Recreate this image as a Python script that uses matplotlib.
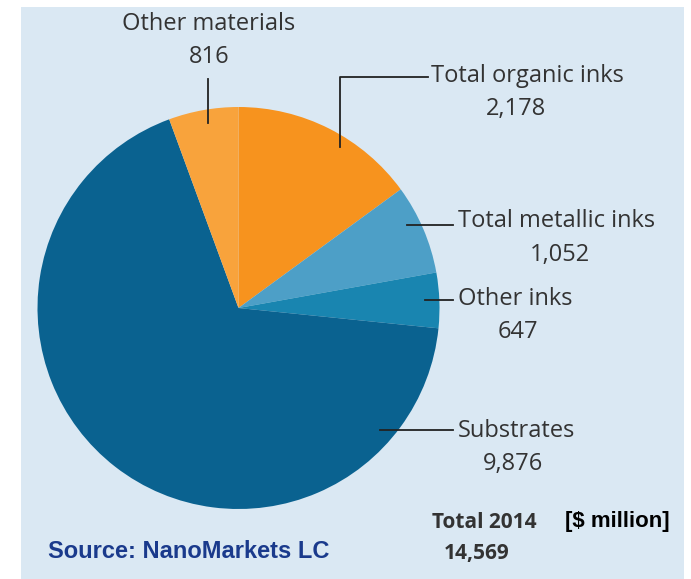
import matplotlib.pyplot as plt
from matplotlib.patches import Rectangle

# market values 2014, $ million (clockwise from 12 o'clock)
labels = ['Total organic inks', 'Total metallic inks', 'Other inks', 'Substrates', 'Other materials']
values = [2178, 1052, 647, 9876, 816]
value_text = ['2,178', '1,052', '647', '9,876', '816']
colors = ['#f7931e', '#4d9fc7', '#1985b0', '#0a6290', '#f8a33c']
total = 14569

W, H = 691, 579
fig = plt.figure(figsize=(W / 100, H / 100), dpi=100)
ax = fig.add_axes([0, 0, 1, 1])

def Y(y):
    # pixel row from top -> data y
    return H - y

# light blue panel
ax.add_patch(Rectangle((21, 0), 663, H - 7, facecolor='#dae8f3', edgecolor='none', zorder=0))

# pie
cx, cy, r = 238.5, Y(308), 201
ax.pie(values, colors=colors, startangle=90, counterclock=False,
       center=(cx, cy), radius=r, frame=True,
       wedgeprops=dict(linewidth=0))
ax.set_xlim(0, W)
ax.set_ylim(0, H)
ax.set_aspect('equal')
ax.axis('off')

font = 'Open Sans'
tc = '#333333'
fs = 17
lc = '#222222'
lw = 1.3

# Other materials
ax.plot([208, 208], [Y(79), Y(123)], color=lc, lw=lw)
ax.text(209, Y(24), labels[4], ha='center', va='center', fontsize=fs, family=font, color=tc)
ax.text(209, Y(57), value_text[4], ha='center', va='center', fontsize=fs, family=font, color=tc)

# Total organic inks
ax.plot([340, 340, 428], [Y(147), Y(77), Y(77)], color=lc, lw=lw)
ax.text(431, Y(76), labels[0], ha='left', va='center', fontsize=fs, family=font, color=tc)
ax.text(516, Y(109), value_text[0], ha='center', va='center', fontsize=fs, family=font, color=tc)

# Total metallic inks
ax.plot([407, 453], [Y(225), Y(225)], color=lc, lw=lw)
ax.text(458, Y(221), labels[1], ha='left', va='center', fontsize=fs, family=font, color=tc)
ax.text(560, Y(255), value_text[1], ha='center', va='center', fontsize=fs, family=font, color=tc)

# Other inks
ax.plot([425, 453], [Y(300), Y(300)], color=lc, lw=lw)
ax.text(458, Y(299), labels[2], ha='left', va='center', fontsize=fs, family=font, color=tc)
ax.text(518, Y(332), value_text[2], ha='center', va='center', fontsize=fs, family=font, color=tc)

# Substrates
ax.plot([380, 453], [Y(430), Y(430)], color=lc, lw=lw)
ax.text(458, Y(431), labels[3], ha='left', va='center', fontsize=fs, family=font, color=tc)
ax.text(513, Y(464), value_text[3], ha='center', va='center', fontsize=fs, family=font, color=tc)

# total
ax.text(432, Y(523), 'Total 2014', ha='left', va='center', fontsize=15, family=font,
        color=tc, fontweight='bold')
ax.text(444, Y(553), f'{total:,}', ha='left', va='center', fontsize=15, family=font,
        color=tc, fontweight='bold')
ax.text(565, Y(522), '[$ million]', ha='left', va='center', fontsize=16,
        family='Liberation Sans', color='black', fontweight='bold')

ax.text(48, Y(552), 'Source: NanoMarkets LC', ha='left', va='center', fontsize=17,
        family='Liberation Sans', color='#1a3a8c', fontweight='bold')

fig.savefig('out.png', dpi=100)
